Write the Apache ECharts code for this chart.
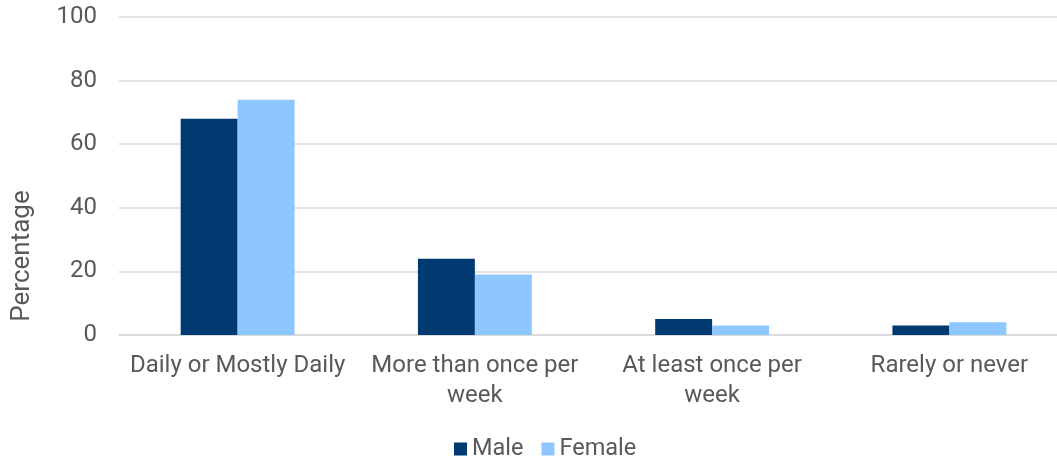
<!DOCTYPE html>
<html><head><meta charset="utf-8">
<script src="https://cdn.jsdelivr.net/npm/echarts@6/dist/echarts.min.js"></script>
<style>html,body{margin:0;padding:0;background:#fff}#c{width:1057px;height:461px}</style>
</head><body><div id="c"></div>
<script>
const categories = ["Daily or Mostly Daily", "More than once per\nweek", "At least once per\nweek", "Rarely or never"];
const male = [68, 24, 5, 3];
const female = [74, 19, 3, 4];
const yTicks = { min: 0, max: 100, interval: 20 };

const chart = echarts.init(document.getElementById('c'));
const txt = '#595959';
chart.setOption({
  animation: false,
  textStyle: { fontFamily: 'Roboto' },
  grid: { left: 119, width: 949, top: 17, height: 318, outerBoundsMode: 'none', containLabel: false },
  legend: {
    top: 432, left: 449, itemWidth: 13, itemHeight: 13, itemGap: 18,
    icon: 'rect',
    textStyle: { color: txt, fontSize: 23.5, fontFamily: 'Roboto', padding: [0,0,0,0] },
    data: ['Male', 'Female']
  },
  graphic: [{
    type: 'text', x: 22, y: 256, rotation: Math.PI / 2,
    style: { text: 'Percentage', fill: txt, font: '26px Roboto', align: 'center', verticalAlign: 'middle' }
  }],
  xAxis: {
    type: 'category', data: categories,
    axisLine: { lineStyle: { color: '#d9d9d9', width: 1.5 } },
    axisTick: { show: false },
    axisLabel: { color: txt, fontSize: 24, lineHeight: 30, margin: 16, interval: 0 }
  },
  yAxis: {
    type: 'value', min: yTicks.min, max: yTicks.max, interval: yTicks.interval,
    axisLabel: { color: txt, fontSize: 24, margin: 22 },
    splitLine: { lineStyle: { color: '#d9d9d9', width: 1.5 } },
    axisLine: { show: false }, axisTick: { show: false }
  },
  series: [
    { name: 'Male', type: 'bar', data: male, itemStyle: { color: '#003A70' }, barGap: '0%', barCategoryGap: '52%' },
    { name: 'Female', type: 'bar', data: female, itemStyle: { color: '#8EC7FF' } }
  ]
});
</script></body></html>
